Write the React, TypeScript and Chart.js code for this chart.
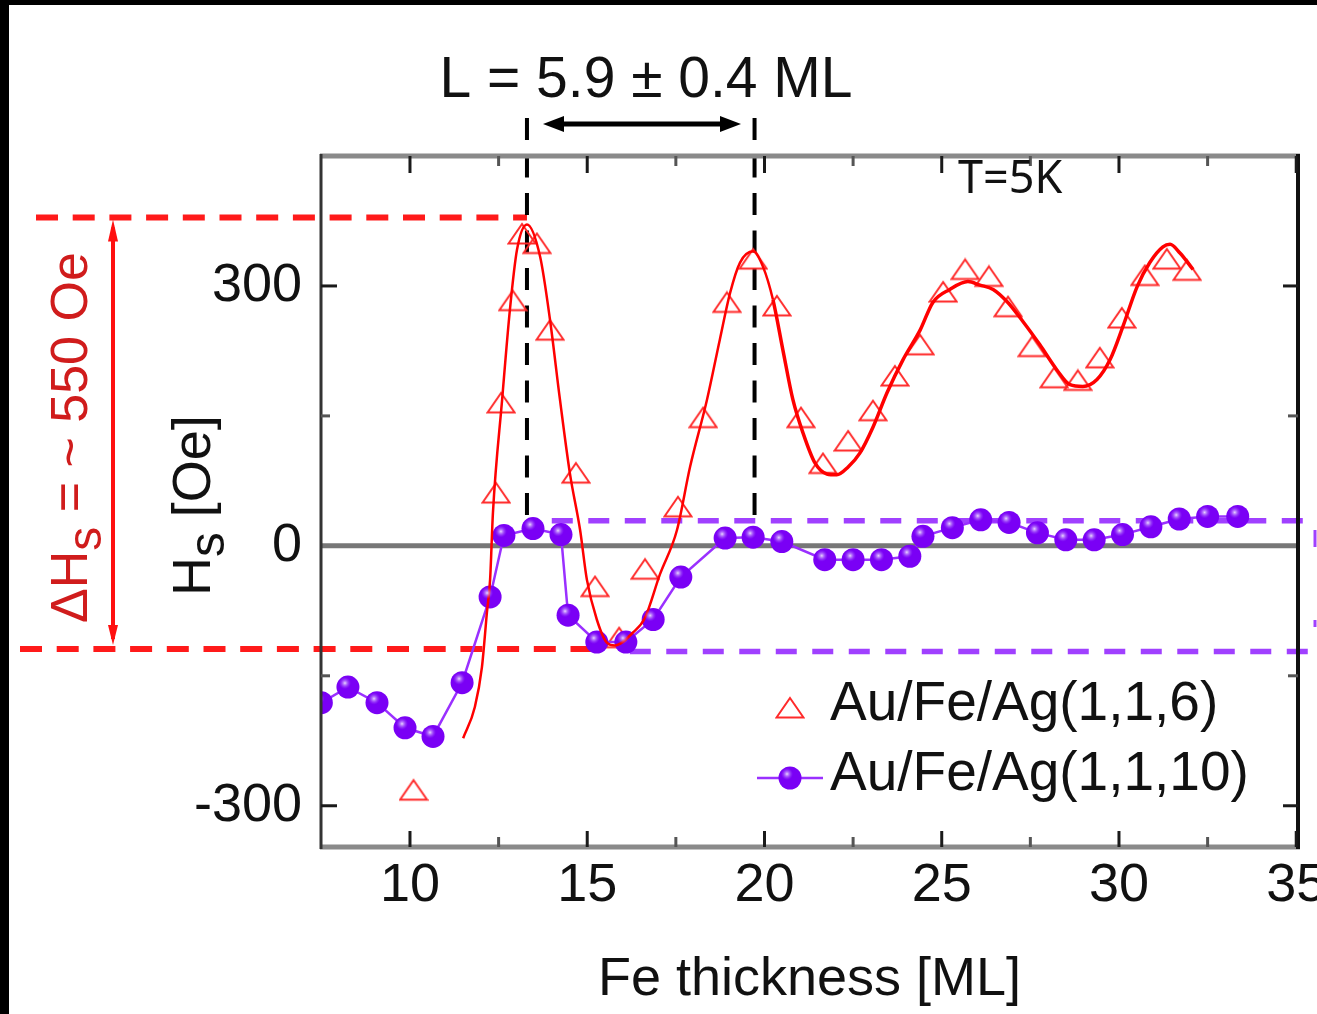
import React, { useEffect, useRef } from 'react';
import { Chart, registerables } from 'chart.js';

Chart.register(...registerables);

// ---------- data ----------
const xTickValues = [10, 15, 20, 25, 30, 35];
const xMinorTickValues = [12.5, 17.5, 22.5, 27.5, 32.5];
const yTickValues = [-300, 0, 300];
const yMinorTickValues = [-150, 150];

// Au/Fe/Ag(1,1,6): open triangles
const thickness116 = [10.1, 12.43, 12.57, 12.9, 13.16, 13.58, 13.95, 14.68, 15.22, 15.9, 16.63, 17.56, 18.27, 18.94, 19.68, 20.35, 21.03, 21.65, 22.36, 23.06, 23.68, 24.39, 25.04, 25.66, 26.33, 26.87, 27.55, 28.17, 28.84, 29.46, 30.08, 30.73, 31.35, 31.92];
const hs116 = [-282, 61, 165, 283, 360, 349, 249, 84, -47, -106, -27, 45, 148, 281, 331, 277, 148, 95, 121, 156, 196, 232, 293, 319, 311, 276, 230, 194, 191, 217, 263, 312, 331, 318];

// fitted curve through the (1,1,6) data
const fitThickness = [11.5, 11.83, 12.03, 12.17, 12.26, 12.34, 12.6, 12.82, 13.02, 13.3, 13.67, 13.95, 14.23, 14.51, 14.8, 14.99, 15.27, 15.56, 15.78, 16.29, 16.63, 17.05, 17.53, 17.9, 18.38, 18.74, 19.03, 19.31, 19.68, 19.96, 20.24, 20.52, 20.8, 21.09, 21.42, 21.76, 22.04, 22.36, 22.69, 23.06, 23.46, 23.91, 24.39, 24.75, 25.23, 25.74, 26.08, 26.45, 26.84, 27.29, 27.77, 28.25, 28.62, 28.98, 29.38, 29.75, 30.11, 30.51, 30.87, 31.24, 31.44, 31.72, 32.09];
const fitHs = [-222, -186, -140, -77, -39, 38, 169, 273, 342, 371, 334, 261, 169, 84, 18, -39, -85, -112, -115, -100, -83, -33, 18, 91, 169, 238, 292, 327, 340, 322, 284, 226, 169, 130, 96, 83, 82, 91, 107, 137, 177, 215, 249, 281, 296, 305, 301, 296, 282, 259, 232, 203, 186, 184, 192, 215, 253, 299, 327, 345, 348, 338, 319];

// Au/Fe/Ag(1,1,10): filled circles
const thickness1110 = [7.5, 8.25, 9.07, 9.86, 10.65, 11.47, 12.26, 12.65, 13.47, 14.26, 14.46, 15.27, 16.09, 16.86, 17.64, 18.89, 19.68, 20.49, 21.7, 22.5, 23.3, 24.1, 24.47, 25.3, 26.1, 26.9, 27.7, 28.5, 29.3, 30.1, 30.9, 31.7, 32.5, 33.35];
const hs1110 = [-181, -163, -181, -210, -220, -158, -59, 12, 20, 13, -80, -111, -111, -85, -36, 9, 10, 5, -16, -16, -16, -12, 11, 21, 30, 27, 15, 7, 7, 13, 22, 31, 34, 34];

const seriesLabels = ['Au/Fe/Ag(1,1,6)', 'Au/Fe/Ag(1,1,10)'];
const periodLabel = 'L = 5.9 \u00B1 0.4 ML';
const tempLabel = 'T=5K';
const xTitle = 'Fe thickness [ML]';
const yTitleParts = ['H', 's', ' [Oe]'];
const deltaParts = ['\u0394H', 's', ' = ~ 550 Oe'];
const peakThickness = [13.3, 19.72];
const redLevels = [379, -119];
const purpleLevels = [29, -122];

const FONT = '"Liberation Sans", Arial, sans-serif';
const PURPLE = '#7a00f5';

export default function App() {
  const ref = useRef<HTMLCanvasElement>(null);

  useEffect(() => {
    const canvas = ref.current!;
    // triangle marker
    const tri = document.createElement('canvas');
    tri.width = 30;
    tri.height = 24;
    const tc = tri.getContext('2d')!;
    tc.strokeStyle = '#ff2a2a';
    tc.lineWidth = 2;
    tc.beginPath();
    tc.moveTo(15, 2);
    tc.lineTo(28.5, 21.5);
    tc.lineTo(1.5, 21.5);
    tc.closePath();
    tc.stroke();

    const highlight = (ctx: CanvasRenderingContext2D, px: number, py: number, r: number) => {
      const g = ctx.createRadialGradient(px - 3, py - 4, 0, px - 3, py - 4, 6);
      g.addColorStop(0, 'rgba(238,225,255,0.95)');
      g.addColorStop(1, 'rgba(160,80,255,0)');
      ctx.fillStyle = g;
      ctx.beginPath();
      ctx.arc(px, py, r, 0, Math.PI * 2);
      ctx.fill();
    };

    const seg = (ctx: CanvasRenderingContext2D, x1: number, y1: number, x2: number, y2: number) => {
      ctx.beginPath();
      ctx.moveTo(x1, y1);
      ctx.lineTo(x2, y2);
      ctx.stroke();
    };

    const decor = {
      id: 'decor',
      beforeDatasetsDraw(chart: any) {
        const { ctx, chartArea: a, scales } = chart;
        const x = scales.x, y = scales.y;
        ctx.save();
        // zero line
        ctx.strokeStyle = '#777';
        ctx.lineWidth = 5;
        seg(ctx, a.left, y.getPixelForValue(0), a.right, y.getPixelForValue(0));
        // purple dashed levels
        ctx.strokeStyle = '#a040ff';
        ctx.lineWidth = 5.5;
        ctx.setLineDash([21, 15.5]);
        seg(ctx, x.getPixelForValue(14.0), y.getPixelForValue(purpleLevels[0]), chart.width, y.getPixelForValue(purpleLevels[0]));
        seg(ctx, x.getPixelForValue(16.2), y.getPixelForValue(purpleLevels[1]), chart.width, y.getPixelForValue(purpleLevels[1]));
        // red dashed levels
        ctx.strokeStyle = '#ff1a1a';
        ctx.lineWidth = 6;
        ctx.setLineDash([22, 14.7]);
        seg(ctx, 27, y.getPixelForValue(redLevels[0]), x.getPixelForValue(peakThickness[0]), y.getPixelForValue(redLevels[0]));
        seg(ctx, 11, y.getPixelForValue(redLevels[1]), x.getPixelForValue(15.2), y.getPixelForValue(redLevels[1]));
        // black dashed verticals
        ctx.strokeStyle = '#000';
        ctx.lineWidth = 4;
        ctx.setLineDash([22, 15.5]);
        for (const p of peakThickness) {
          seg(ctx, x.getPixelForValue(p), 113, x.getPixelForValue(p), y.getPixelForValue(purpleLevels[0]) - 2);
        }
        ctx.restore();
      },
      afterDatasetsDraw(chart: any) {
        const { ctx, chartArea: a } = chart;
        const meta = chart.getDatasetMeta(1);
        ctx.save();
        ctx.beginPath();
        ctx.rect(a.left, a.top, a.right - a.left, a.bottom - a.top);
        ctx.clip();
        for (const el of meta.data) highlight(ctx, el.x, el.y, 11.5);
        ctx.restore();
      },
      afterDraw(chart: any) {
        const { ctx, chartArea: a, scales } = chart;
        const x = scales.x, y = scales.y;
        ctx.save();
        ctx.setLineDash([]);
        // frame
        ctx.strokeStyle = '#8a8a8a';
        ctx.lineWidth = 5;
        seg(ctx, a.left - 1, a.top, a.right + 2, a.top);
        seg(ctx, a.left - 1, a.bottom, a.right + 2, a.bottom);
        ctx.strokeStyle = '#333';
        ctx.lineWidth = 3;
        seg(ctx, a.left, a.top - 2, a.left, a.bottom + 2);
        ctx.strokeStyle = '#111';
        ctx.lineWidth = 4;
        seg(ctx, a.right, a.top - 2, a.right, a.bottom + 2);
        // ticks
        ctx.strokeStyle = '#1a1a1a';
        ctx.lineWidth = 3;
        for (const v of xTickValues) {
          const px = x.getPixelForValue(v);
          seg(ctx, px, a.top, px, a.top + 17);
          seg(ctx, px, a.bottom, px, a.bottom - 16);
        }
        ctx.strokeStyle = '#555';
        for (const v of xMinorTickValues) {
          const px = x.getPixelForValue(v);
          seg(ctx, px, a.top, px, a.top + 10);
          seg(ctx, px, a.bottom, px, a.bottom - 10);
        }
        ctx.strokeStyle = '#1a1a1a';
        for (const v of yTickValues) {
          if (v === 0) continue;
          const py = y.getPixelForValue(v);
          seg(ctx, a.left, py, a.left + 16, py);
          seg(ctx, a.right, py, a.right - 15, py);
        }
        ctx.strokeStyle = '#555';
        for (const v of yMinorTickValues) {
          const py = y.getPixelForValue(v);
          seg(ctx, a.left, py, a.left + 9, py);
          seg(ctx, a.right, py, a.right - 10, py);
        }

        // double arrow (period)
        ctx.strokeStyle = '#000';
        ctx.fillStyle = '#000';
        ctx.lineWidth = 5;
        const ay = 119, axL = 534, axR = 732;
        seg(ctx, axL + 12, ay, axR - 12, ay);
        ctx.beginPath();
        ctx.moveTo(axL, ay); ctx.lineTo(axL + 21, ay - 8); ctx.lineTo(axL + 21, ay + 8); ctx.closePath(); ctx.fill();
        ctx.beginPath();
        ctx.moveTo(axR, ay); ctx.lineTo(axR - 21, ay - 8); ctx.lineTo(axR - 21, ay + 8); ctx.closePath(); ctx.fill();

        // red vertical double arrow
        ctx.strokeStyle = '#ff1010';
        ctx.fillStyle = '#ff1010';
        ctx.lineWidth = 4;
        const rx = 104;
        const rTop = y.getPixelForValue(redLevels[0]);
        const rBot = y.getPixelForValue(redLevels[1]);
        seg(ctx, rx, rTop + 10, rx, rBot - 10);
        ctx.beginPath();
        ctx.moveTo(rx, rTop + 2); ctx.lineTo(rx - 5, rTop + 24); ctx.lineTo(rx + 5, rTop + 24); ctx.closePath(); ctx.fill();
        ctx.beginPath();
        ctx.moveTo(rx, rBot - 4); ctx.lineTo(rx - 5, rBot - 24); ctx.lineTo(rx + 5, rBot - 24); ctx.closePath(); ctx.fill();

        // small purple marks at right edge
        ctx.strokeStyle = '#a040ff';
        ctx.lineWidth = 3;
        seg(ctx, 1306, 525, 1306, 542);
        seg(ctx, 1306, 615, 1306, 622);

        // texts
        ctx.fillStyle = '#111';
        ctx.textBaseline = 'alphabetic';
        ctx.font = `57px ${FONT}`;
        ctx.textAlign = 'center';
        ctx.fillText(periodLabel, 637, 92);
        ctx.textAlign = 'left';
        ctx.font = '45px "Noto Sans", "Open Sans", sans-serif';
        ctx.fillText(tempLabel, 949, 188);

        // rotated texts with subscript
        const rotText = (parts: string[], bx: number, by: number, size: number, color: string) => {
          ctx.save();
          ctx.translate(bx, by);
          ctx.rotate(-Math.PI / 2);
          ctx.fillStyle = color;
          ctx.font = `${size}px ${FONT}`;
          ctx.textAlign = 'left';
          let cx = 0;
          ctx.fillText(parts[0], cx, 0);
          cx += ctx.measureText(parts[0]).width;
          ctx.font = `${size * 0.92}px ${FONT}`;
          ctx.fillText(parts[1], cx, 14);
          cx += ctx.measureText(parts[1]).width;
          ctx.font = `${size}px ${FONT}`;
          ctx.fillText(parts[2], cx, 0);
          ctx.restore();
        };
        rotText(yTitleParts, 201, 591, 54, '#111');
        rotText(deltaParts, 78, 618, 52, '#d01c1c');

        // legend
        ctx.drawImage(tri, 781 - 15, 703 - 12);
        ctx.strokeStyle = '#9a30ff';
        ctx.lineWidth = 2.5;
        seg(ctx, 748, 773, 814, 773);
        ctx.fillStyle = PURPLE;
        ctx.beginPath();
        ctx.arc(781, 773, 11.5, 0, Math.PI * 2);
        ctx.fill();
        highlight(ctx, 781, 773, 11.5);
        ctx.fillStyle = '#111';
        ctx.font = `55px ${FONT}`;
        ctx.fillText(seriesLabels[0], 821, 715);
        ctx.fillText(seriesLabels[1], 821, 785);
        ctx.restore();
      },
    };

    const chart = new Chart(canvas, {
      type: 'scatter',
      data: {
        datasets: [
          {
            label: 'fit',
            data: fitThickness.map((v, i) => ({ x: v, y: fitHs[i] })),
            showLine: true,
            borderColor: '#ff0000',
            borderWidth: 2.5,
            pointRadius: 0,
            cubicInterpolationMode: 'monotone',
            segment: { borderWidth: (c: any) => (c.p0.parsed.x >= 20.2 ? 3.5 : 2.5) },
            order: 0,
          } as any,
          {
            label: seriesLabels[1],
            data: thickness1110.map((v, i) => ({ x: v, y: hs1110[i] })),
            showLine: true,
            borderColor: '#9a30ff',
            borderWidth: 2.5,
            pointRadius: 11.5,
            pointBackgroundColor: PURPLE,
            pointBorderColor: PURPLE,
            pointBorderWidth: 0,
            order: 1,
          },
          {
            label: seriesLabels[0],
            data: thickness116.map((v, i) => ({ x: v, y: hs116[i] })),
            showLine: false,
            pointStyle: tri as any,
            pointRadius: 10,
            order: 2,
          },
        ],
      },
      options: {
        responsive: false,
        animation: false,
        events: [],
        layout: { padding: { left: 0, top: 151, right: 19, bottom: 0 } },
        plugins: { legend: { display: false }, tooltip: { enabled: false } },
        scales: {
          x: {
            type: 'linear',
            min: 7.49,
            max: 35.05,
            afterBuildTicks: (s: any) => { s.ticks = xTickValues.map((v) => ({ value: v })); },
            afterFit: (s: any) => { s.height = 167; s.paddingLeft = 0; s.paddingRight = 0; },
            grid: { display: false, drawTicks: false },
            border: { display: false },
            ticks: {
              color: '#111',
              font: { family: FONT, size: 54 },
              padding: 7,
              maxRotation: 0,
              autoSkip: false,
              callback: (v: any) => String(v),
            },
            title: {
              display: true,
              text: xTitle,
              color: '#111',
              font: { family: FONT, size: 54 },
              padding: { top: 0, bottom: 1 },
            },
          },
          y: {
            type: 'linear',
            min: -347.6,
            max: 450,
            afterBuildTicks: (s: any) => { s.ticks = yTickValues.map((v) => ({ value: v })); },
            afterFit: (s: any) => { s.width = 312; s.paddingTop = 0; s.paddingBottom = 0; },
            grid: { display: false, drawTicks: false },
            border: { display: false },
            ticks: {
              color: '#111',
              font: { family: FONT, size: 54 },
              padding: 19,
              autoSkip: false,
              callback: (v: any) => String(v),
            },
          },
        },
      },
      plugins: [decor],
    });
    return () => chart.destroy();
  }, []);

  return (
    <div style={{ position: 'fixed', left: 0, top: 0, width: 1317, height: 1014, background: '#000', overflow: 'hidden' }}>
      <div style={{ position: 'absolute', left: 9, top: 5, width: 1308, height: 1009, background: '#fff' }}>
        <canvas ref={ref} width={1308} height={1009} style={{ display: 'block', width: 1308, height: 1009 }} />
      </div>
    </div>
  );
}
